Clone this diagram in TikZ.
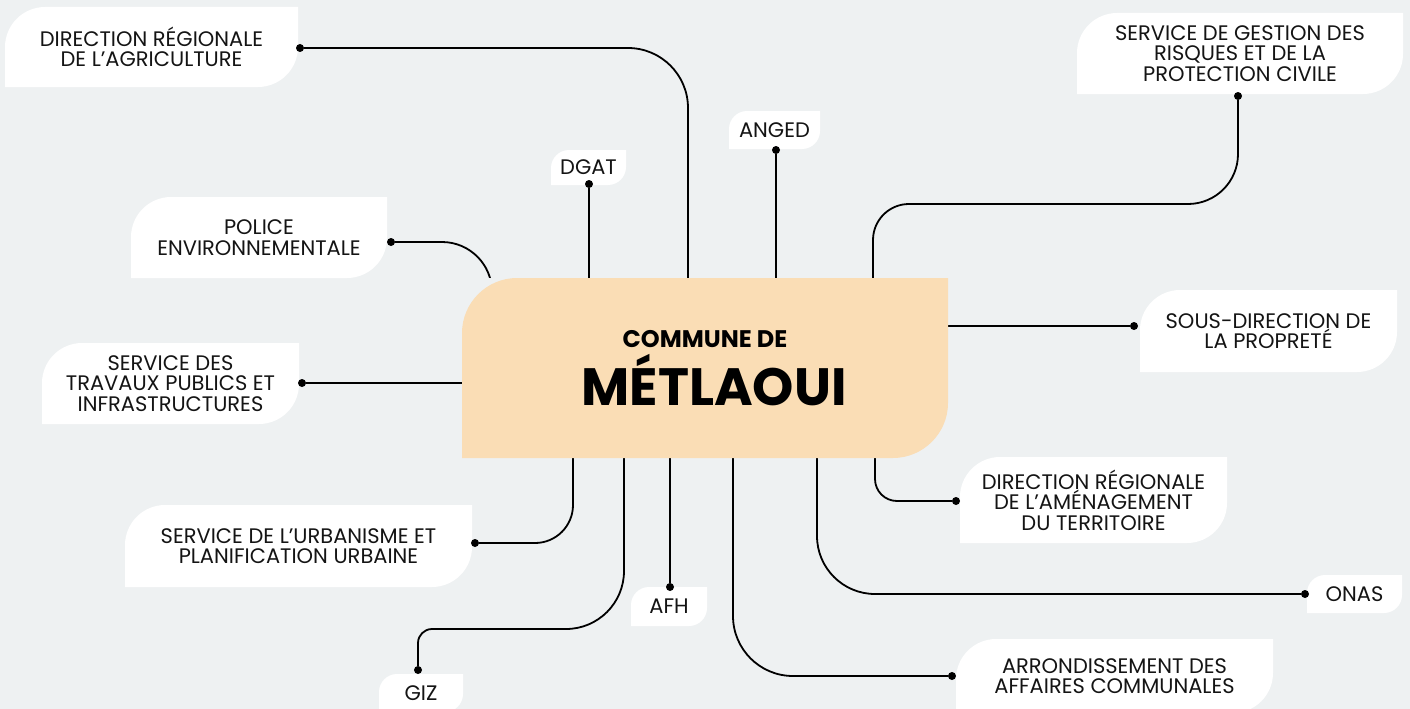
\documentclass[tikz,border=0pt]{standalone}
\usepackage{fontspec}
\setmainfont{Poppins}
\usetikzlibrary{calc}
\definecolor{bgcol}{HTML}{EEF1F2}
\definecolor{peach}{HTML}{FADDB5}
\definecolor{ink}{HTML}{141414}

\begin{document}
\begin{tikzpicture}[x=1pt,y=-1pt,
  leaf/.style 2 args={rectangle,inner sep=0pt,fill=bgcol,path picture={
    \fill[#2] ([yshift=-#1]path picture bounding box.north west)
      .. controls ([yshift=-0.45*#1]path picture bounding box.north west) and ([xshift=0.45*#1]path picture bounding box.north west)
      .. ([xshift=#1]path picture bounding box.north west)
      -- (path picture bounding box.north east)
      -- ([yshift=#1]path picture bounding box.south east)
      .. controls ([yshift=0.45*#1]path picture bounding box.south east) and ([xshift=-0.45*#1]path picture bounding box.south east)
      .. ([xshift=-#1]path picture bounding box.south east)
      -- (path picture bounding box.south west) -- cycle;}},
  box/.style={leaf={40pt}{white},align=center,text=ink,font=\fontsize{21}{20.5}\selectfont},
  tag/.style={leaf={18pt}{white},text=ink,font=\fontsize{21}{20.5}\selectfont},
  dot/.style={circle,fill=black,inner sep=0pt,minimum size=8pt},
  link/.style={line width=1.8pt,black}]
  \fill[bgcol] (0,0) rectangle (1410,709);
  \useasboundingbox (0,0) rectangle (1410,709);
  \clip (0,0) rectangle (1410,709);
  \path (151.5,47) node[box,minimum width=293pt,minimum height=80pt] (b1) {DIRECTION RÉGIONALE\\DE L’AGRICULTURE}
  (588.5,167.5) node[tag,minimum width=75pt,minimum height=35pt] (b2) {DGAT}
  (774.5,130) node[tag,minimum width=91pt,minimum height=38pt] (b3) {ANGED}
  (259,237.5) node[box,minimum width=256pt,minimum height=81pt] (b4) {POLICE\\ENVIRONNEMENTALE}
  (170.5,383.5) node[box,minimum width=257pt,minimum height=81pt] (b5) {SERVICE DES\\TRAVAUX PUBLICS ET\\INFRASTRUCTURES}
  (298.5,546) node[box,minimum width=347pt,minimum height=82pt] (b6) {SERVICE DE L’URBANISME ET\\PLANIFICATION URBAINE}
  (421,693) node[tag,minimum width=84pt,minimum height=38pt] (b7) {GIZ}
  (669,606.5) node[tag,minimum width=76pt,minimum height=39pt] (b8) {AFH}
  (1114.5,676) node[box,minimum width=317pt,minimum height=74pt] (b9) {ARRONDISSEMENT DES\\AFFAIRES COMMUNALES}
  (1354.5,594) node[tag,minimum width=95pt,minimum height=38pt] (b10) {ONAS}
  (1093.5,500) node[box,minimum width=267pt,minimum height=86pt] (b11) {DIRECTION RÉGIONALE\\DE L’AMÉNAGEMENT\\DU TERRITOIRE}
  (1268.5,331) node[box,minimum width=257pt,minimum height=82pt] (b12) {SOUS-DIRECTION DE\\LA PROPRETÉ}
  (1240,53.5) node[box,minimum width=326pt,minimum height=81pt] (b13) {SERVICE DE GESTION DES\\RISQUES ET DE LA\\PROTECTION CIVILE};
  \path (300,48) node[dot] (d1) {} (589,184) node[dot] (d2) {} (776,150) node[dot] (d3) {}
  (391,242) node[dot] (d4) {} (302,383) node[dot] (d5) {} (475,543) node[dot] (d6) {}
  (418,670) node[dot] (d7) {} (670,587) node[dot] (d8) {} (952,676) node[dot] (d9) {}
  (1305,594) node[dot] (d10) {} (956,501) node[dot] (d11) {} (1134,326) node[dot] (d12) {}
  (1238,96) node[dot] (d13) {};
  \coordinate (t1) at (688,290);
  \coordinate (t2) at (589,290);
  \coordinate (t3) at (776,290);
  \coordinate (t4) at (492,300);
  \coordinate (t5) at (475,383);
  \coordinate (t6) at (573,446);
  \coordinate (t7) at (624,446);
  \coordinate (t8) at (670,446);
  \coordinate (t9) at (733,446);
  \coordinate (t10) at (817,446);
  \coordinate (t11) at (875,446);
  \coordinate (t12) at (935,326);
  \coordinate (t13) at (873,290);
  \coordinate (k7) at (520,629);
  \coordinate (k13) at (1050,204);
  \draw[link,rounded corners=60pt] (d1) -| (t1);
  \draw[link] (d2) -- (t2);
  \draw[link] (d3) -- (t3);
  \draw[link,rounded corners=50pt] (d4) -| (t4);
  \draw[link] (d5) -- (t5);
  \draw[link,rounded corners=38pt] (d6) -| (t6);
  \draw[link,rounded corners=14pt] (d7) |- (k7);
  \draw[link,rounded corners=58pt] (k7) -| (t7);
  \draw[link] (d8) -- (t8);
  \draw[link,rounded corners=60pt] (t9) |- (d9);
  \draw[link,rounded corners=58pt] (t10) |- (d10);
  \draw[link,rounded corners=22pt] (t11) |- (d11);
  \draw[link] (d12) -- (t12);
  \draw[link,rounded corners=50pt] (d13) |- (k13);
  \draw[link,rounded corners=36pt] (k13) -| (t13);
  \node[leaf={55pt}{peach},minimum width=486pt,minimum height=180pt] (c) at (705,368) {};
  \node[font=\fontsize{24}{24}\selectfont\bfseries,anchor=base] (c1) at (705,347) {COMMUNE DE};
  \node[font=\fontsize{52.5}{52.5}\selectfont\bfseries,anchor=base] (c2) at (714,405) {MÉTLAOUI};
\end{tikzpicture}
\end{document}
